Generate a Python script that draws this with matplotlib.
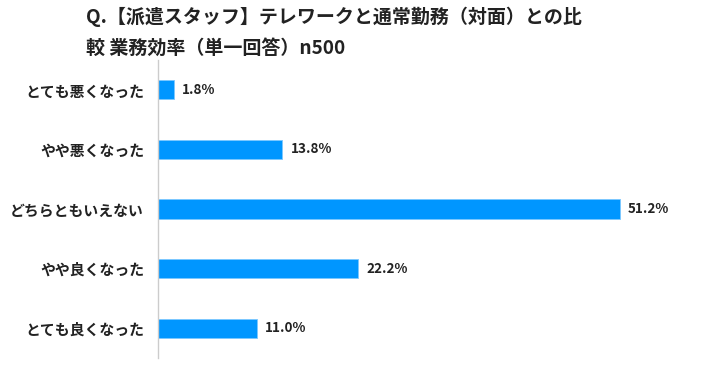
import matplotlib
matplotlib.use("Agg")
import matplotlib.pyplot as plt

plt.rcParams['font.family'] = ['Noto Sans CJK JP', 'DejaVu Sans']

categories = ["とても悪くなった", "やや悪くなった", "どちらともいえない", "やや良くなった", "とても良くなった"]
values = [1.8, 13.8, 51.2, 22.2, 11.0]
value_labels = ["1.8%", "13.8%", "51.2%", "22.2%", "11.0%"]
title_lines = ["Q.【派遣スタッフ】テレワークと通常勤務（対面）との比", "較 業務効率（単一回答）n500"]

fig = plt.figure(figsize=(7.16, 3.67), dpi=100)
ax = fig.add_axes([158/716, 1 - 358/367, (699-158)/716, (358-60)/367])

y = list(range(len(categories)))
ax.barh(y, values, height=0.32, color='#0096FF', edgecolor='#7CC8FF', linewidth=0.6)
ax.set_ylim(len(categories) - 0.5, -0.5)
ax.set_xlim(0, 60)
ax.set_yticks(y)
ax.set_yticklabels(categories, fontsize=10.7, fontweight='bold', color='#222222')
ax.tick_params(axis='y', length=0, pad=10)
ax.set_xticks([])
for s in ['top', 'right', 'bottom']:
    ax.spines[s].set_visible(False)
ax.spines['left'].set_color('#CCCCCC')
ax.spines['left'].set_linewidth(1.0)

for yi, v, lab in zip(y, values, value_labels):
    ax.text(v + 0.9, yi, lab, va='center', ha='left', fontsize=9.7, fontweight='bold', color='#222222')

fig.text(86/716, 1 - 17/367, title_lines[0], fontsize=13.7, fontweight='bold', va='center', ha='left', color='#222222')
fig.text(86/716, 1 - 48/367, title_lines[1], fontsize=13.7, fontweight='bold', va='center', ha='left', color='#222222')

fig.savefig("out.png", dpi=100)
